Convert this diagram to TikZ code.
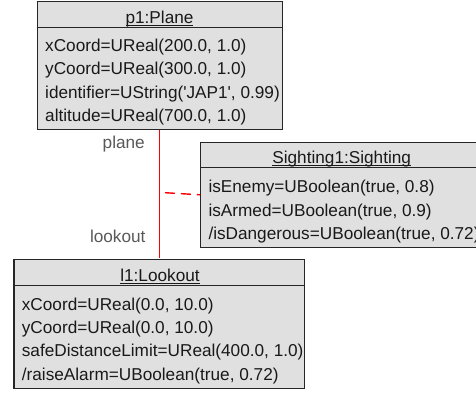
\documentclass[tikz,border=0pt]{standalone}
\usepackage{fontspec}
\setmainfont{Liberation Sans}
\begin{document}
\begin{tikzpicture}[x=1pt,y=-1pt,
  box/.style={draw=black!85, line width=1.2pt, fill=black!12, inner sep=0pt, anchor=north west},
  divider/.style={draw=black!85, line width=1.2pt},
  attr/.style={inner sep=0pt, anchor=base west, text=black!90, font=\fontsize{17.2}{20}\selectfont},
  ttl/.style={inner sep=0pt, anchor=base, text=black!90, font=\fontsize{17.2}{20}\selectfont},
  lbl/.style={inner sep=0pt, anchor=base east, text=black!65, font=\fontsize{17.2}{20}\selectfont},
  assocline/.style={draw=red, line width=1.7pt},
  dassocline/.style={draw=red, line width=1.4pt, dash pattern=on 10pt off 6pt}]
\useasboundingbox (0,0) rectangle (476,392);
\clip (0,0) rectangle (476,392);
\newcommand{\ttlu}[1]{\underline{\smash{#1}}}
% links first
\coordinate (ptop) at (159.5,129.6);
\coordinate (lbot) at (159.5,258.4);
\path[assocline] (ptop) -- (lbot);
% Plane
\node[box, minimum width=245pt, minimum height=128pt] (plane) at (36.7,1) {};
\draw[divider] (36.7,27.3) -- (281.7,27.3);
\node[ttl] (pt) at (159.5,23.3) {\ttlu{p1:Plane}};
\node[attr] (p1) at (45,51.5) {xCoord=UReal(200.0, 1.0)};
\node[attr] (p2) at (45,74.8) {yCoord=UReal(300.0, 1.0)};
\node[attr] (p3) at (45,98.2) {identifier=UString(\textquotesingle JAP1\textquotesingle, 0.99)};
\node[attr] (p4) at (45,121.5) {altitude=UReal(700.0, 1.0)};
% Sighting
\node[box, minimum width=283pt, minimum height=105pt] (sighting) at (200,141.7) {};
\draw[divider] (200,167.7) -- (483,167.7);
\node[ttl] (st) at (341.7,163.3) {\ttlu{Sighting1:Sighting}};
\node[attr] (s1) at (208.3,192.7) {isEnemy=UBoolean(true, 0.8)};
\node[attr] (s2) at (208.3,216) {isArmed=UBoolean(true, 0.9)};
\node[attr] (s3) at (208.3,239.3) {/isDangerous=UBoolean(true, 0.72)};
% Lookout
\node[box, minimum width=290.7pt, minimum height=128.7pt] (lookout) at (13.3,259) {};
\draw[divider] (13.3,285.7) -- (304,285.7);
\node[ttl] (lt) at (160,281.7) {\ttlu{l1:Lookout}};
\node[attr] (l1) at (21.7,310) {xCoord=UReal(0.0, 10.0)};
\node[attr] (l2) at (21.7,333.3) {yCoord=UReal(0.0, 10.0)};
\node[attr] (l3) at (21.7,356.7) {safeDistanceLimit=UReal(400.0, 1.0)};
\node[attr] (l4) at (21.7,380) {/raiseAlarm=UBoolean(true, 0.72)};
\node[lbl] (lp) at (145,148.3) {plane};
\node[lbl] (ll) at (145.7,242.3) {lookout};
\coordinate (ds) at (165,192.7);
\path[dassocline] (ds) -- (sighting.west);
\end{tikzpicture}
\end{document}
